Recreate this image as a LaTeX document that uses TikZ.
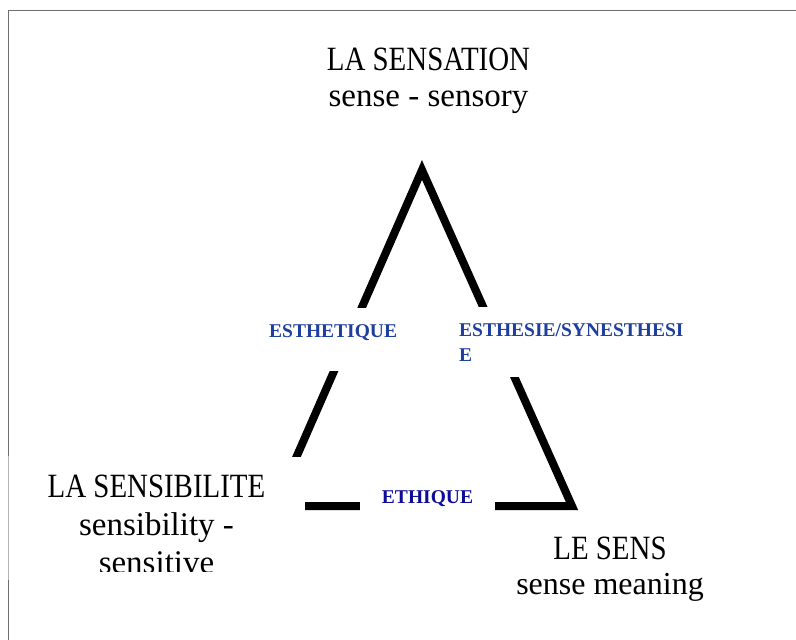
\documentclass[tikz,border=0pt]{standalone}
\usepackage{fontspec}
\setmainfont{Liberation Serif}
\newfontfamily\capsfont[FakeStretch=0.85]{Liberation Serif}
\definecolor{axisblue}{HTML}{1F3F9F}
\definecolor{ethicblue}{HTML}{0C0C99}
\definecolor{framegray}{HTML}{6E6E6E}
\definecolor{framelight}{HTML}{B4B4B4}

\begin{document}
\begin{tikzpicture}[x=1pt,y=-1pt]

\tikzset{side/.style = {line width=8pt, line join=miter}}
\tikzset{pole/.style = {align=center, inner sep=0pt}}
\tikzset{axis/.style = {fill=white, inner xsep=6pt, inner ysep=16pt, text=axisblue, font=\bfseries\fontsize{19.5}{25}\selectfont}}
\tikzset{frameline/.style = {draw=framegray, line width=1.5pt}}

\useasboundingbox (0,0) rectangle (796,640);

% frame
\draw[frameline] (796,10.5) -| (8.5,456);
\draw[frameline] (8.5,580) -- (8.5,640);

% vertices
\coordinate (top) at (422,170);
\coordinate (left) at (275,506);
\coordinate (right) at (572,506);

% sides
\draw[side] (top) -- (left) -- (right) -- cycle;

% poles
\node[pole, anchor=north, font=\fontsize{33}{36}\selectfont] (sensation) at (428.5,48)
  {{\capsfont\fontsize{34}{36}\selectfont LA SENSATION}\\sense - sensory};
\begin{scope}
\clip (8.5,457) rectangle (305,571);
\node[pole, anchor=north, fill=white, minimum width=297pt, inner ysep=18pt, font=\fontsize{33}{38}\selectfont] (sensibilite) at (156.5,457)
  {{\capsfont\fontsize{34}{38}\selectfont LA SENSIBILITE}\\sensibility -\\sensitive};
\end{scope}
\draw[draw=framelight, line width=1.5pt] (8.5,456) -- (8.5,580);
\node[pole, anchor=north, font=\fontsize{32}{35}\selectfont] (sens) at (610,537)
  {{\capsfont\fontsize{34}{35}\selectfont LE SENS}\\sense meaning};

% axes
\node[axis, anchor=base west, text depth=18pt] (esthetique) at (263,337) {ESTHETIQUE};
\node[axis, align=left, anchor=north west] (esthesie) at (453,307) {ESTHESIE/SYNESTHESI\\E};
\node[axis, text=ethicblue, inner xsep=22pt, inner ysep=6pt, anchor=base] (ethique) at (427.5,503) {ETHIQUE};

\end{tikzpicture}
\end{document}
